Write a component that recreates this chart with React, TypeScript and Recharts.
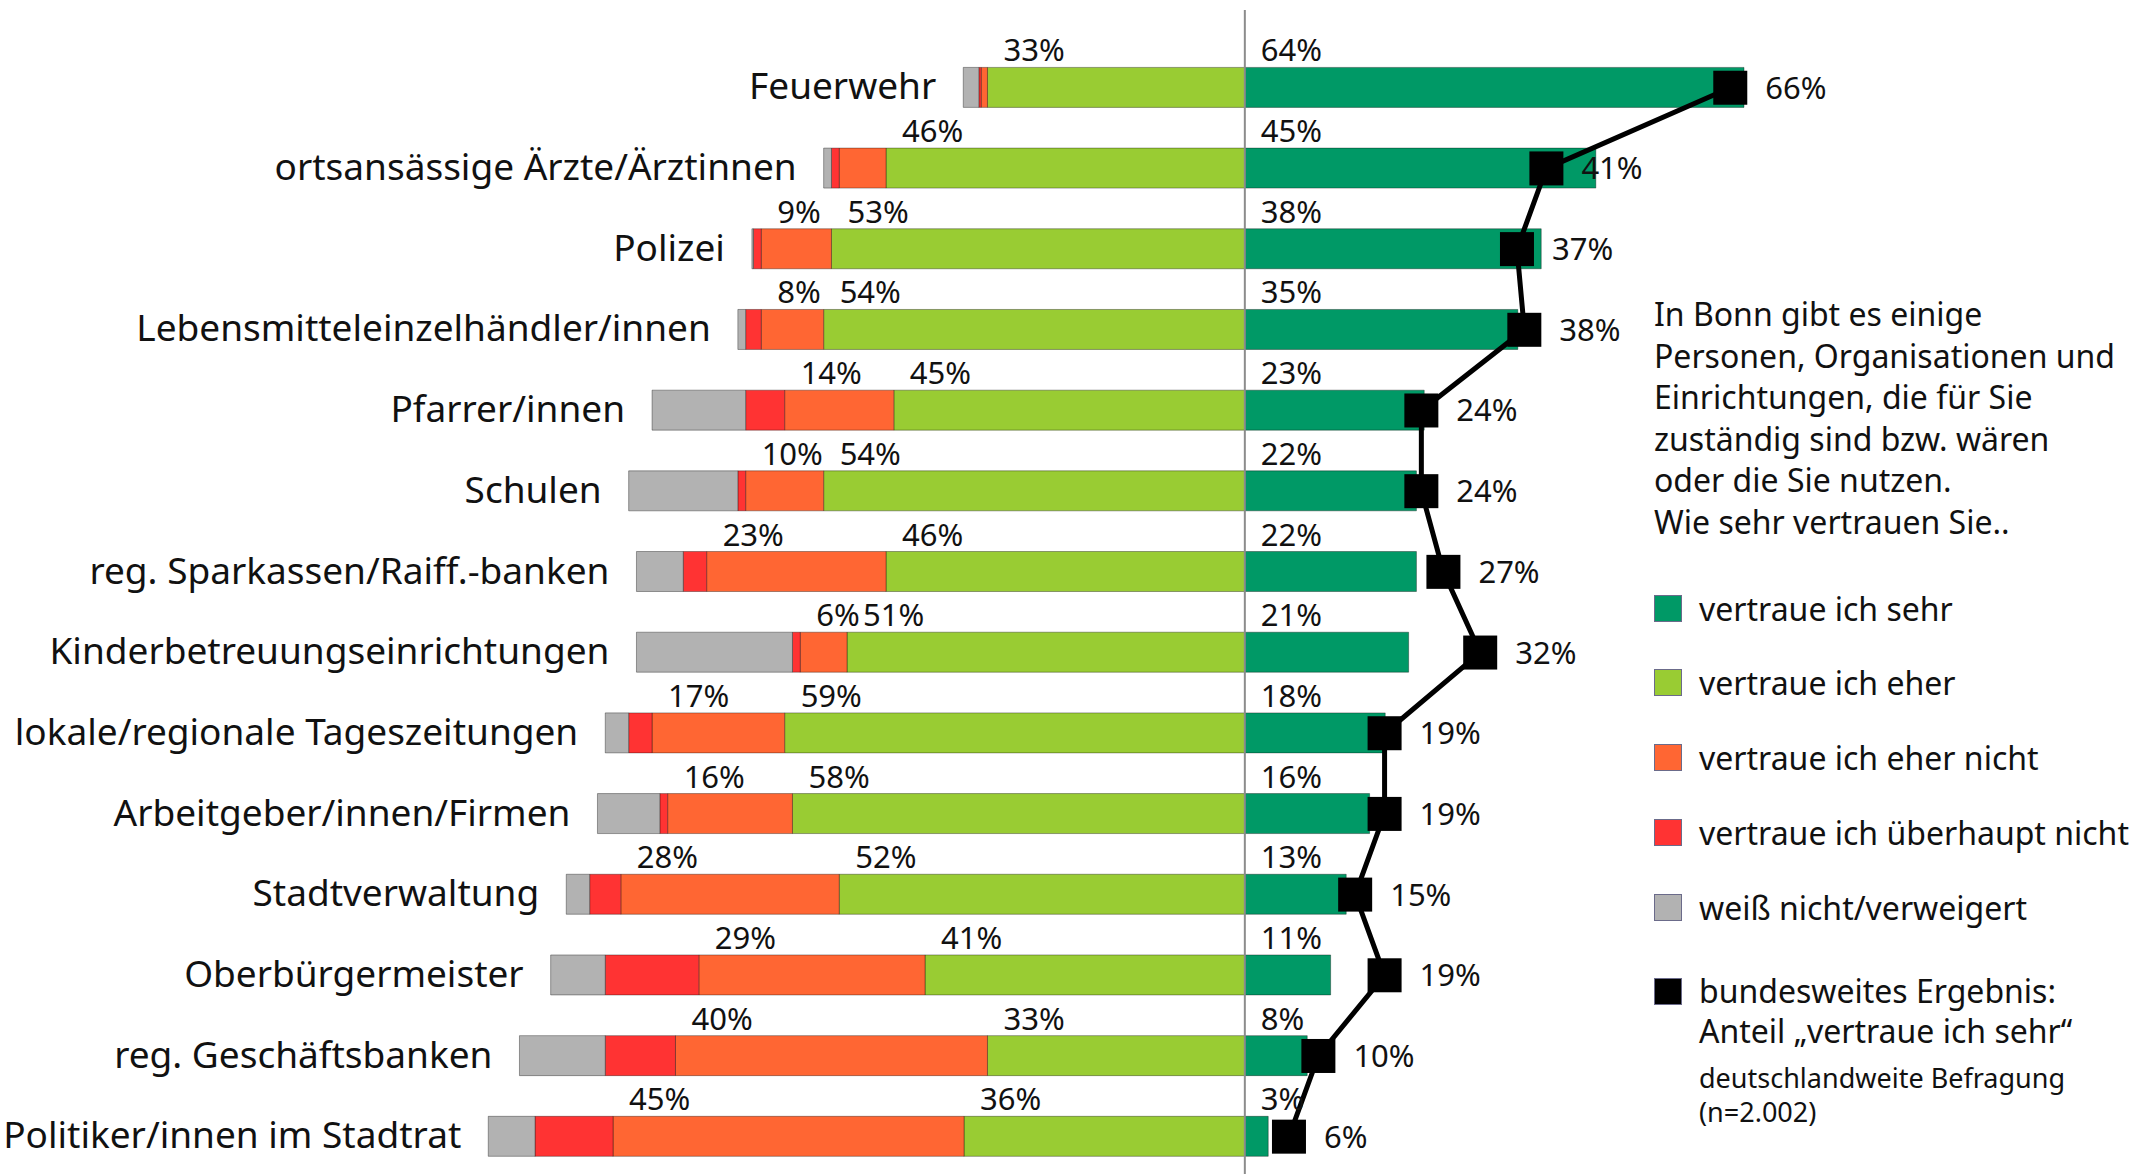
import { ComposedChart, Bar, Line, XAxis, YAxis, ReferenceLine, LabelList, Legend } from "recharts"

const categories = [
  "Feuerwehr",
  "ortsansässige Ärzte/Ärztinnen",
  "Polizei",
  "Lebensmitteleinzelhändler/innen",
  "Pfarrer/innen",
  "Schulen",
  "reg. Sparkassen/Raiff.-banken",
  "Kinderbetreuungseinrichtungen",
  "lokale/regionale Tageszeitungen",
  "Arbeitgeber/innen/Firmen",
  "Stadtverwaltung",
  "Oberbürgermeister",
  "reg. Geschäftsbanken",
  "Politiker/innen im Stadtrat",
]

// Bonn survey, % per answer
const sehr = [64, 45, 38, 35, 23, 22, 22, 21, 18, 16, 13, 11, 8, 3]
const eher = [33, 46, 53, 54, 45, 54, 46, 51, 59, 58, 52, 41, 33, 36]
const eherNicht = [0.8, 6, 9, 8, 14, 10, 23, 6, 17, 16, 28, 29, 40, 45]
const ueberhauptNicht = [0.3, 1, 1, 2, 5, 1, 3, 1, 3, 1, 4, 12, 9, 10]
const weissNicht = [2, 1, 0.2, 1, 12, 14, 6, 20, 3, 8, 3, 7, 11, 6]
// national result, share "vertraue ich sehr"
const bundesweit = [66, 41, 37, 38, 24, 24, 27, 32, 19, 19, 15, 19, 10, 6]

const eherNichtLabels = ["", "", "9%", "8%", "14%", "10%", "23%", "6%", "17%", "16%", "28%", "29%", "40%", "45%"]
const sehrLabels = sehr.map((v) => `${v}%`)
const eherLabels = eher.map((v) => `${v}%`)
const bundLabels = bundesweit.map((v) => `${v}%`)

const introLines = [
  "In Bonn gibt es einige",
  "Personen, Organisationen und",
  "Einrichtungen, die für Sie",
  "zuständig sind bzw. wären",
  "oder die Sie nutzen.",
  "Wie sehr vertrauen Sie..",
]

const legendItems = [
  { name: "vertraue ich sehr", color: "#009966" },
  { name: "vertraue ich eher", color: "#99CC33" },
  { name: "vertraue ich eher nicht", color: "#FF6633" },
  { name: "vertraue ich überhaupt nicht", color: "#FF3333" },
  { name: "weiß nicht/verweigert", color: "#B2B2B2" },
]

const data = categories.map((name, i) => ({
  name,
  sehr: sehr[i],
  eher: -eher[i],
  eherNicht: -eherNicht[i],
  ueberhaupt: -ueberhauptNicht[i],
  weiss: -weissNicht[i],
  bund: bundesweit[i],
}))

const FONT = "'Noto Sans', 'Open Sans', sans-serif"
const domainMain: [number, number] = [-159.6, 114]
const bundFactor = 0.943
const domainBund: [number, number] = [domainMain[0] / bundFactor, domainMain[1] / bundFactor]

function box(p: any) {
  const v = p.viewBox && p.viewBox.x !== undefined ? p.viewBox : p
  const x = Number(v.x)
  const y = Number(v.y)
  const w = Number(v.width) || 0
  const h = Number(v.height) || 0
  return { left: Math.min(x, x + w), top: Math.min(y, y + h), cy: y + h / 2, x, y }
}

function topLabel(texts: string[]) {
  return (p: any) => {
    const i = p.index
    if (!texts[i]) return null
    const b = box(p)
    return (
      <text x={b.left + 16} y={b.top - 6} fontSize={31} fontFamily={FONT} fill="#111">
        {texts[i]}
      </text>
    )
  }
}

function categoryLabel(p: any) {
  const b = box(p)
  return (
    <text x={b.left - 27} y={b.cy + 12} fontSize={37} fontFamily={FONT} fill="#111" textAnchor="end">
      {categories[p.index]}
    </text>
  )
}

function bundLabel(p: any) {
  const b = box(p)
  return (
    <text x={b.x + 35} y={b.y + 11} fontSize={31} fontFamily={FONT} fill="#111">
      {bundLabels[p.index]}
    </text>
  )
}

function squareDot(p: any) {
  return <rect key={`dot-${p.index}`} x={p.cx - 17} y={p.cy - 17} width={34} height={34} fill="#000" />
}

function LegendBox() {
  const swatch = (color: string) => (
    <span
      style={{
        display: "inline-block",
        width: 26,
        height: 25,
        background: color,
        border: "1px solid #6b6b8a",
        marginRight: 17,
        flex: "none",
      }}
    />
  )
  return (
    <div style={{ fontFamily: FONT, color: "#111", textAlign: "left" }}>
      <div style={{ fontSize: 32, lineHeight: "41.6px", whiteSpace: "nowrap" }}>
        {introLines.map((l) => (
          <div key={l}>{l}</div>
        ))}
      </div>
      <div style={{ marginTop: 28 }}>
        {legendItems.map((it) => (
          <div key={it.name} style={{ display: "flex", alignItems: "center", height: 74.9, fontSize: 32, whiteSpace: "nowrap" }}>
            {swatch(it.color)}
            {it.name}
          </div>
        ))}
      </div>
      <div style={{ display: "flex", alignItems: "flex-start", marginTop: 26 }}>
        <span style={{ marginTop: 7, display: "flex" }}>{swatch("#000")}</span>
        <div style={{ whiteSpace: "nowrap" }}>
          <div style={{ fontSize: 32, lineHeight: "40px" }}>bundesweites Ergebnis:</div>
          <div style={{ fontSize: 32, lineHeight: "40px" }}>Anteil „vertraue ich sehr“</div>
          <div style={{ fontSize: 27, lineHeight: "34px", marginTop: 9.5 }}>deutschlandweite Befragung</div>
          <div style={{ fontSize: 27, lineHeight: "34px" }}>(n=2.002)</div>
        </div>
      </div>
    </div>
  )
}

const barStroke = "rgba(0,0,0,0.35)"

export default function App() {
  return (
    <div style={{ position: "relative", width: 2134, height: 1177, background: "#fff" }}>
      <style>{"body{margin:0;overflow:hidden;background:#fff}"}</style>
      <ComposedChart
        width={2134}
        height={1177}
        data={data}
        layout="vertical"
        stackOffset="sign"
        barSize={40}
        margin={{ top: 10, right: 0, bottom: 0, left: 0 }}
      >
        <XAxis xAxisId="main" type="number" domain={domainMain} hide />
        <XAxis xAxisId="bund" type="number" domain={domainBund} hide />
        <YAxis yAxisId="cat" type="category" dataKey="name" hide padding={{ top: 37.4, bottom: 0 }} />
        <YAxis yAxisId="full" type="number" domain={[0, 1]} hide />
        <Bar dataKey="sehr" stackId="s" xAxisId="main" yAxisId="cat" fill="#009966" stroke={barStroke} strokeWidth={1} isAnimationActive={false}>
          <LabelList content={topLabel(sehrLabels)} />
        </Bar>
        <Bar dataKey="eher" stackId="s" xAxisId="main" yAxisId="cat" fill="#99CC33" stroke={barStroke} strokeWidth={1} isAnimationActive={false}>
          <LabelList content={topLabel(eherLabels)} />
        </Bar>
        <Bar dataKey="eherNicht" stackId="s" xAxisId="main" yAxisId="cat" fill="#FF6633" stroke={barStroke} strokeWidth={1} isAnimationActive={false}>
          <LabelList content={topLabel(eherNichtLabels)} />
        </Bar>
        <Bar dataKey="ueberhaupt" stackId="s" xAxisId="main" yAxisId="cat" fill="#FF3333" stroke={barStroke} strokeWidth={1} isAnimationActive={false} />
        <Bar dataKey="weiss" stackId="s" xAxisId="main" yAxisId="cat" fill="#B2B2B2" stroke={barStroke} strokeWidth={1} isAnimationActive={false}>
          <LabelList content={categoryLabel} />
        </Bar>
        <ReferenceLine x={0} xAxisId="main" yAxisId="full" stroke="#8c8c8c" strokeWidth={2} />
        <Line
          dataKey="bund"
          xAxisId="bund"
          yAxisId="cat"
          type="linear"
          stroke="#000"
          strokeWidth={5}
          dot={squareDot}
          activeDot={false}
          isAnimationActive={false}
        >
          <LabelList content={bundLabel} />
        </Line>
        <Legend
          layout="vertical"
          align="center"
          verticalAlign="middle"
          content={() => <LegendBox />}
          wrapperStyle={{ left: 1654, top: 293, width: 480 }}
        />
      </ComposedChart>
    </div>
  )
}
